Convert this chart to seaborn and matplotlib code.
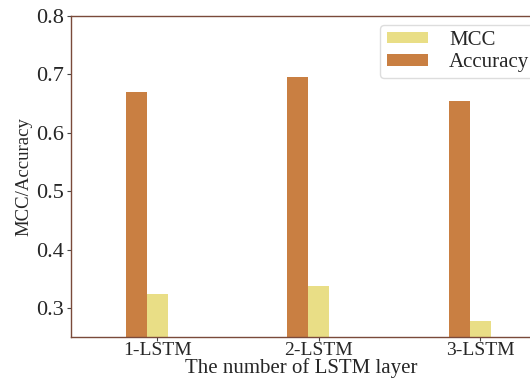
import matplotlib
matplotlib.use("Agg")
import matplotlib.pyplot as plt
import numpy as np
import pandas as pd
import seaborn as sns

# data
layers = ["1-LSTM", "2-LSTM", "3-LSTM"]
accuracy = [0.670, 0.695, 0.655]
mcc = [0.324, 0.338, 0.277]

df = pd.DataFrame({
    "layer": layers * 2,
    "metric": ["Accuracy"] * 3 + ["MCC"] * 3,
    "value": accuracy + mcc,
})

sns.set_style("white")
plt.rcParams["font.family"] = ["Liberation Serif", "DejaVu Serif"]

fig = plt.figure(figsize=(5.3, 3.78), dpi=100)
ax = fig.add_axes([0.134, 0.108, 0.87, 0.85])

width = 0.26
sns.barplot(data=df, x="layer", y="value", hue="metric",
            hue_order=["Accuracy", "MCC"],
            palette={"Accuracy": "#C97F42", "MCC": "#E9DE86"},
            width=width, gap=0, dodge=True, ax=ax, saturation=1,
            linewidth=0)

# ticks sit at the MCC bar centre, as in the reference
pos = np.arange(len(layers)) + width / 4
ax.set_xticks(pos)
ax.set_xticklabels(layers)
ax.set_xlim(-0.47, 2.385)
ax.set_ylim(0.25, 0.8)
ax.set_yticks([0.3, 0.4, 0.5, 0.6, 0.7, 0.8])
ax.tick_params(axis="x", labelsize=14, length=3, pad=0.5,
               bottom=True, color="#444444")
ax.tick_params(axis="y", labelsize=16, length=3, pad=2,
               left=True, color="#444444")

for side in ["left", "bottom", "top"]:
    ax.spines[side].set_color("#7a4a3a")
    ax.spines[side].set_linewidth(1.0)
ax.spines["right"].set_visible(False)

ax.set_xlabel("The number of LSTM layer", fontsize=15, labelpad=-1)
ax.set_ylabel("MCC/Accuracy", fontsize=13.5, labelpad=3)

handles, labels = ax.get_legend_handles_labels()
order = [labels.index("MCC"), labels.index("Accuracy")]
ax.legend([handles[i] for i in order], [labels[i] for i in order],
          loc="upper right", bbox_to_anchor=(1.03, 1.005), fontsize=15,
          frameon=True, framealpha=1, edgecolor="#dddddd", fancybox=True,
          handlelength=2.0, handleheight=0.5, borderpad=0.3,
          labelspacing=0.15, handletextpad=1.0)

fig.savefig("out.png", dpi=100)
plt.close(fig)
